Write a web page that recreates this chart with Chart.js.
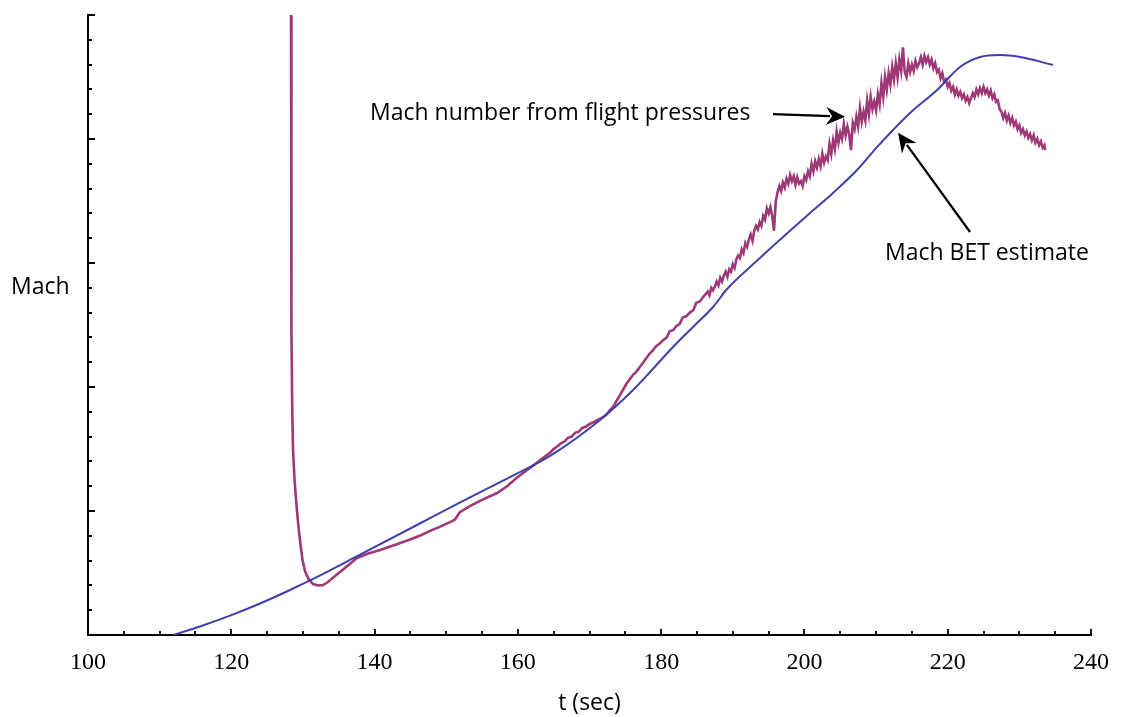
<!DOCTYPE html>
<html>
<head>
<meta charset="utf-8">
<script src="https://cdn.jsdelivr.net/npm/chart.js@4.4.1/dist/chart.umd.min.js"></script>
<style>
  body { margin: 0; background: #fff; }
  #wrap { width: 1123px; height: 717px; }
</style>
</head>
<body>
<div id="wrap"><canvas id="chart"></canvas></div>
<script>
// BET (best estimated trajectory) Mach vs time
const betTime = [111.87, 115.63, 119.82, 124.01, 128.20, 131.41, 137.97, 145.92, 152.35, 158.91,
  164.49, 171.47, 176.08, 178.45, 181.66, 184.45, 187.24, 189.20, 192.83, 197.01,
  200.78, 203.99, 207.34, 210.13, 212.37, 214.74, 218.51, 221.72, 224.51, 227.30,
  230.10, 234.70];
const betMach = [0.00, 0.069, 0.156, 0.254, 0.363, 0.452, 0.648, 0.887, 1.081, 1.274,
  1.444, 1.734, 1.976, 2.121, 2.323, 2.484, 2.645, 2.790, 2.990, 3.210,
  3.403, 3.565, 3.750, 3.935, 4.073, 4.210, 4.395, 4.581, 4.661, 4.677,
  4.661, 4.597];

// Mach from flight pressure measurements
const flightTime = [128.34, 128.37, 128.42, 128.51, 128.62, 128.83, 129.10, 129.38, 129.66, 129.94,
  130.29, 130.78, 131.41, 132.11, 132.80, 133.50, 134.48, 135.87, 137.55, 139.00,
  140.76, 142.50, 143.50, 144.95, 146.30, 147.74, 149.00, 150.53, 151.20, 151.90,
  153.30, 155.00, 157.10, 158.50, 159.90, 161.30, 162.70, 164.00,
  164.5, 165.0, 165.5, 166.0, 166.5, 167.0, 167.5, 168.0, 168.5, 169.0,
  169.5, 170.0, 170.5, 171.0, 171.5, 172.0, 172.4, 172.8, 173.3, 173.8,
  174.2, 174.7, 175.2, 175.6, 176.1, 176.5, 177.0, 177.4, 177.9, 178.4,
  178.9, 179.3, 179.8, 180.3, 180.8, 181.2, 181.7, 182.1, 182.6, 183.0,
  183.5, 184.0, 184.5, 184.9, 185.4, 185.9, 186.25,
  186.50, 186.75, 187.00, 187.25, 187.50, 187.75, 188.00, 188.25, 188.50, 188.75,
  189.00, 189.25, 189.50, 189.75, 190.00, 190.25, 190.50, 190.75, 191.00, 191.25,
  191.50, 191.75, 192.00, 192.25, 192.50, 192.75, 193.00, 193.25, 193.50, 193.75,
  194.00, 194.25, 194.50, 194.75, 195.00, 195.25, 195.50, 195.75, 196.00, 196.25,
  196.50, 196.75, 197.00, 197.25, 197.50, 197.75, 198.00, 198.25, 198.50, 198.75,
  199.00, 199.25, 199.50, 199.75, 200.00, 200.25, 200.50, 200.75, 201.00, 201.25,
  201.50, 201.75, 202.00, 202.25, 202.50, 202.75, 203.00, 203.25, 203.50, 203.75,
  204.00, 204.25, 204.50, 204.75, 205.00, 205.25, 205.50, 205.75, 206.00, 206.25,
  206.50, 206.75, 207.00, 207.25, 207.50, 207.75, 208.00, 208.25, 208.50, 208.75,
  209.00, 209.25, 209.50, 209.75, 210.00, 210.25, 210.50, 210.75, 211.00, 211.25,
  211.50, 211.75, 212.00, 212.25, 212.50, 212.75, 213.00, 213.25, 213.50, 213.75,
  214.00, 214.25, 214.50, 214.75, 215.00, 215.25, 215.50, 215.75, 216.00, 216.25,
  216.50, 216.75, 217.00, 217.25, 217.50, 217.75, 218.00, 218.25, 218.50, 218.75,
  219.00, 219.25, 219.50, 219.75, 220.00, 220.25, 220.50, 220.75, 221.00, 221.25,
  221.50, 221.75, 222.00, 222.25, 222.50, 222.75, 223.00, 223.25, 223.50, 223.75,
  224.00, 224.25, 224.50, 224.75, 225.00, 225.25, 225.50, 225.75, 226.00, 226.25,
  226.50, 226.75, 227.00, 227.25, 227.50, 227.75, 228.00, 228.25, 228.50, 228.75,
  229.00, 229.25, 229.50, 229.75, 230.00, 230.25, 230.50, 230.75, 231.00, 231.25,
  231.50, 231.75, 232.00, 232.25, 232.50, 232.75, 233.00, 233.25, 233.50, 233.60];
const flightMach = [5.00, 3.51, 2.46, 1.81, 1.49, 1.25, 1.05, 0.87, 0.73, 0.605,
  0.516, 0.452, 0.411, 0.400, 0.403, 0.427, 0.476, 0.540, 0.621, 0.655,
  0.685, 0.72, 0.74, 0.77, 0.80, 0.84, 0.87, 0.91, 0.93, 0.99,
  1.04, 1.09, 1.145, 1.20, 1.27, 1.33, 1.39, 1.45,
  1.47, 1.50, 1.52, 1.545, 1.56, 1.59, 1.60, 1.63, 1.64, 1.67,
  1.68, 1.70, 1.715, 1.73, 1.745, 1.76, 1.78, 1.81, 1.84, 1.89,
  1.93, 1.98, 2.03, 2.06, 2.10, 2.12, 2.16, 2.19, 2.23, 2.27,
  2.30, 2.33, 2.35, 2.38, 2.40, 2.45, 2.46, 2.49, 2.51, 2.56,
  2.57, 2.60, 2.62, 2.68, 2.69, 2.73, 2.75,
  2.77, 2.74, 2.80, 2.78, 2.81, 2.85, 2.82, 2.88, 2.85, 2.90,
  2.93, 2.89, 2.95, 2.93, 2.99, 2.96, 3.03, 3.06, 3.04, 3.11,
  3.08, 3.16, 3.13, 3.19, 3.23, 3.18, 3.26, 3.30, 3.27, 3.33,
  3.30, 3.38, 3.35, 3.44, 3.40, 3.45, 3.38, 3.26, 3.50, 3.57,
  3.62, 3.58, 3.65, 3.61, 3.68, 3.64, 3.71, 3.66, 3.70, 3.63,
  3.69, 3.64, 3.66, 3.62, 3.70, 3.67, 3.74, 3.70, 3.80, 3.74,
  3.82, 3.77, 3.84, 3.78, 3.88, 3.81, 3.86, 3.83, 3.96, 3.88,
  3.99, 3.92, 4.06, 3.97, 4.05, 4.00, 4.12, 4.03, 4.10, 4.04,
  3.91, 4.13, 4.08, 4.18, 4.10, 4.25, 4.14, 4.22, 4.15, 4.31,
  4.20, 4.34, 4.24, 4.30, 4.23, 4.36, 4.28, 4.45, 4.34, 4.50,
  4.40, 4.53, 4.44, 4.58, 4.48, 4.61, 4.50, 4.64, 4.55, 4.74,
  4.54, 4.50, 4.61, 4.54, 4.60, 4.55, 4.63, 4.58, 4.61, 4.66,
  4.60, 4.67, 4.62, 4.66, 4.60, 4.64, 4.57, 4.61, 4.54, 4.56,
  4.49, 4.53, 4.46, 4.48, 4.42, 4.45, 4.39, 4.42, 4.36, 4.40,
  4.35, 4.38, 4.33, 4.36, 4.31, 4.34, 4.29, 4.33, 4.37, 4.34,
  4.40, 4.36, 4.41, 4.37, 4.42, 4.37, 4.40, 4.35, 4.39, 4.33,
  4.36, 4.30, 4.31, 4.24, 4.22, 4.17, 4.21, 4.15, 4.19, 4.13,
  4.17, 4.11, 4.14, 4.08, 4.11, 4.05, 4.08, 4.03, 4.06, 4.01,
  4.04, 3.99, 4.03, 3.97, 4.00, 3.95, 3.98, 3.93, 3.95, 3.91];

const xTickLabels = [100, 120, 140, 160, 180, 200, 220, 240];
const machRange = [0, 5];

// annotation anchors in data units: [text, text t, text mach, tail t, tail mach, tip t, tip mach]
const noteFlight = ['Mach number from flight pressures', 139.36, 4.21, 195.62, 4.20, 205.67, 4.18];
const noteBet = ['Mach BET estimate', 211.25, 3.08, 223.11, 3.25, 213.07, 4.05];

const toXY = (xs, ys) => xs.map((t, i) => ({ x: t, y: ys[i] }));

// inward tick marks, the y label and the two arrows
const decorations = {
  id: 'decorations',
  afterDraw(chart) {
    const { ctx, chartArea, scales: { x, y } } = chart;
    ctx.save();
    ctx.strokeStyle = '#000';
    ctx.lineWidth = 1.8;
    ctx.beginPath();
    for (let t = 100; t <= 240; t += 5) {
      const px = Math.round(x.getPixelForValue(t));
      const len = t % 20 === 0 ? 6 : 4;
      ctx.moveTo(px, chartArea.bottom);
      ctx.lineTo(px, chartArea.bottom - len);
    }
    for (let k = 0; k <= 25; k++) {
      const py = Math.round(y.getPixelForValue(k * 0.2));
      const len = k % 5 === 0 ? 7 : 4;
      ctx.moveTo(chartArea.left, py);
      ctx.lineTo(chartArea.left + len, py);
    }
    ctx.stroke();

    ctx.fillStyle = '#000';
    ctx.font = '23px "Open Sans", sans-serif';
    ctx.textBaseline = 'middle';
    ctx.textAlign = 'left';
    ctx.fillText('Mach', 11, y.getPixelForValue(2.80));

    [noteFlight, noteBet].forEach(n => {
      ctx.fillText(n[0], x.getPixelForValue(n[1]), y.getPixelForValue(n[2]));
      const x0 = x.getPixelForValue(n[3]), y0 = y.getPixelForValue(n[4]);
      const x1 = x.getPixelForValue(n[5]), y1 = y.getPixelForValue(n[6]);
      const a = Math.atan2(y1 - y0, x1 - x0);
      const hl = 19, hw = 9;
      const bx = x1 - hl * Math.cos(a), by = y1 - hl * Math.sin(a);
      ctx.lineWidth = 2.2;
      ctx.beginPath();
      ctx.moveTo(x0, y0);
      ctx.lineTo(bx + 4 * Math.cos(a), by + 4 * Math.sin(a));
      ctx.stroke();
      ctx.beginPath();
      ctx.moveTo(x1, y1);
      ctx.lineTo(bx - hw * Math.sin(a), by + hw * Math.cos(a));
      ctx.lineTo(bx + 6 * Math.cos(a), by + 6 * Math.sin(a));
      ctx.lineTo(bx + hw * Math.sin(a), by - hw * Math.cos(a));
      ctx.closePath();
      ctx.fill();
    });
    ctx.restore();
  }
};

new Chart(document.getElementById('chart'), {
  type: 'line',
  data: {
    datasets: [
      {
        label: 'Mach BET estimate',
        data: toXY(betTime, betMach),
        borderColor: 'rgb(64,64,172)',
        borderWidth: 2,
        pointRadius: 0,
        cubicInterpolationMode: 'monotone'
      },
      {
        label: 'Mach number from flight pressures',
        data: toXY(flightTime, flightMach),
        borderColor: 'rgb(158,56,118)',
        borderWidth: 2.6,
        pointRadius: 0,
        tension: 0
      }
    ]
  },
  options: {
    responsive: true,
    maintainAspectRatio: false,
    animation: false,
    layout: { padding: { top: 15, right: 32, left: 0, bottom: 0 } },
    plugins: { legend: { display: false }, tooltip: { enabled: false } },
    scales: {
      x: {
        type: 'linear',
        min: 100,
        max: 240,
        afterBuildTicks: s => { s.ticks = xTickLabels.map(v => ({ value: v })); },
        afterFit: s => { s.height = 82; },
        grid: { display: false, drawTicks: false },
        border: { display: true, color: '#000', width: 2 },
        ticks: {
          color: '#000',
          padding: 13,
          maxRotation: 0,
          font: { family: '"Liberation Serif", serif', size: 24 }
        },
        title: {
          display: true,
          text: 't (sec)',
          color: '#000',
          padding: { top: 0, bottom: 0 },
          font: { family: '"Open Sans", sans-serif', size: 23 }
        }
      },
      y: {
        type: 'linear',
        min: machRange[0],
        max: machRange[1],
        afterFit: s => { s.width = 88; },
        grid: { display: false, drawTicks: false },
        border: { display: true, color: '#000', width: 2 },
        ticks: { display: false }
      }
    }
  },
  plugins: [decorations]
});
</script>
</body>
</html>
